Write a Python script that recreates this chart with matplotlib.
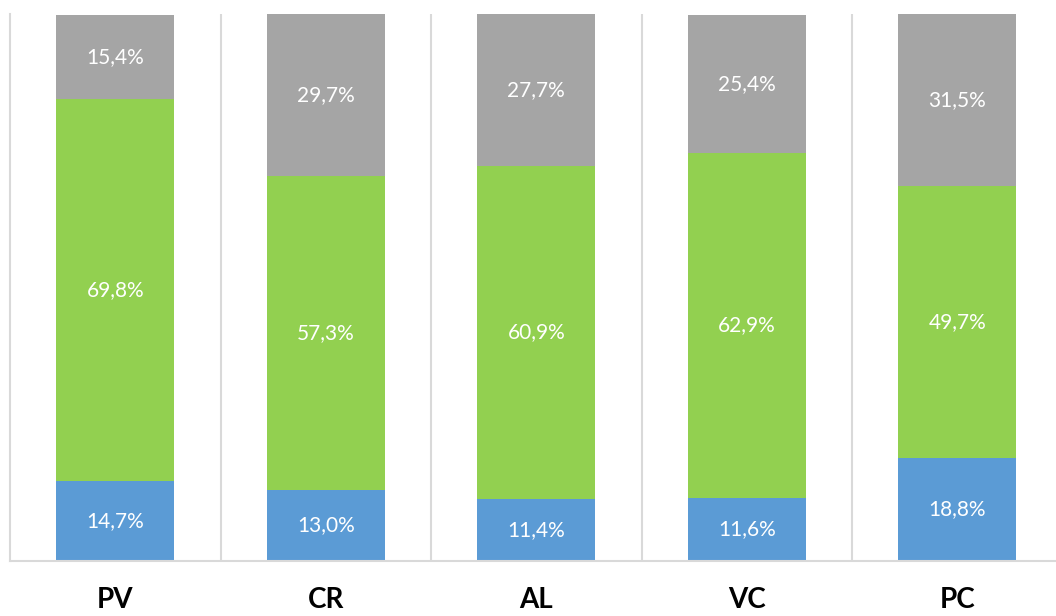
import numpy as np
import matplotlib.pyplot as plt

categories = ["PV", "CR", "AL", "VC", "PC"]
blue_vals = [14.7, 13.0, 11.4, 11.6, 18.8]
green_vals = [69.8, 57.3, 60.9, 62.9, 49.7]
gray_vals = [15.4, 29.7, 27.7, 25.4, 31.5]

colors = ["#5B9BD5", "#92D050", "#A5A5A5"]

W, H = 1056, 616
fig = plt.figure(figsize=(W / 100, H / 100), dpi=100)
ax = fig.add_axes([10 / W, (H - 561) / H, (W - 10) / W, 547 / H])

x = np.arange(len(categories))
bottom = np.zeros(len(categories))
for vals, col in zip([blue_vals, green_vals, gray_vals], colors):
    vals = np.array(vals)
    ax.bar(x, vals, width=0.56, bottom=bottom, color=col, zorder=2)
    for xi, b, v in zip(x, bottom, vals):
        ax.text(xi, b + v / 2, "{:.1f}%".format(v).replace(".", ","),
                ha="center", va="center", color="white",
                fontsize=15, family="Lato", zorder=3)
    bottom += vals

cat_w = 210.5
ax.set_xlim(-0.5, -0.5 + (W - 10) / cat_w)
ax.set_ylim(0, 100)

ax.set_xticks(x)
ax.set_xticklabels(categories, fontsize=20, fontweight="bold", family="Lato")
ax.set_xticks(x[:-1] + 0.5, minor=True)
ax.tick_params(axis="x", which="both", length=0, pad=19)
ax.grid(axis="x", which="minor", color="#D9D9D9", linewidth=1.5, zorder=0)
ax.set_yticks([])

for s in ["top", "right"]:
    ax.spines[s].set_visible(False)
for s in ["left", "bottom"]:
    ax.spines[s].set_color("#D9D9D9")
    ax.spines[s].set_linewidth(1.5)

plt.savefig("out.png", dpi=100)
